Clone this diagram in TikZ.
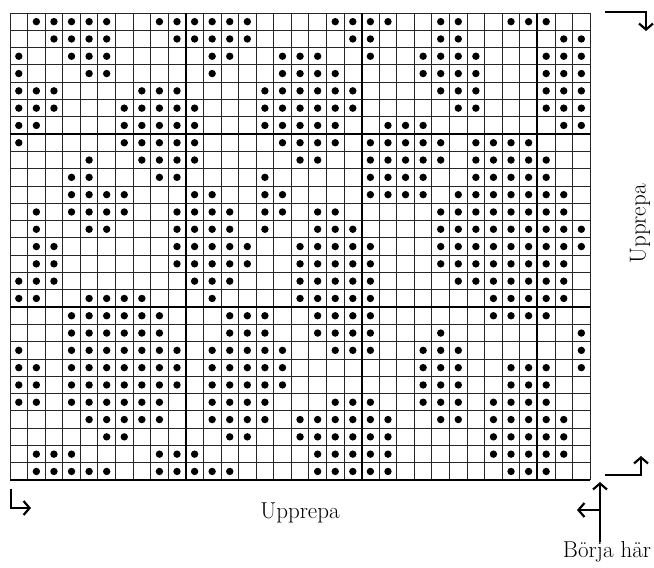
\documentclass[tikz,border=0pt]{standalone}
\usetikzlibrary{arrows.meta}

\tikzset{
  gridline/.style={line width=0.9pt,black!85},
  boldline/.style={line width=2pt,black},
  stitch/.style={fill=black},
  turnarrow/.style={line width=2.2pt,-{Straight Barb[length=6pt,width=14pt,line width=2.2pt]}},
}

\begin{document}
\begin{tikzpicture}[x=1pt,y=-1pt,font=\fontsize{23}{26}\selectfont]
  \useasboundingbox (0,0) rectangle (654,568);
  % chart, one unit = one stitch
  \begin{scope}[shift={(10,13)},x=17.58pt,y=-17.3pt]
    \foreach \i in {0,...,33} \draw[gridline] (\i,0) -- (\i,27);
    \foreach \j in {0,...,27} \draw[gridline] (0,\j) -- (33,\j);
    \foreach \i in {10,20,30} \draw[boldline] (\i,0) -- (\i,27);
    \foreach \j in {7,17} \draw[boldline] (0,\j) -- (33,\j);
    \draw[boldline] (0,27) -- (33,27);
    \foreach \r/\cols in {
      0/{1,2,3,4,5,8,9,10,11,12,13,18,19,20,21,24,25,28,29,30},
      1/{2,3,4,5,9,10,11,12,13,19,20,24,25,31,32},
      2/{0,3,4,5,11,12,15,16,17,20,23,24,25,26,30,31,32},
      3/{0,4,5,11,15,16,17,18,23,24,25,26,30,31,32},
      4/{0,1,2,7,8,9,14,15,16,17,18,19,24,25,26,30,31,32},
      5/{0,1,2,6,7,8,9,10,14,15,16,17,18,19,25,26,30,31,32},
      6/{0,1,6,7,8,9,10,14,15,16,17,18,21,22,23,31,32},
      7/{0,6,7,8,9,10,15,16,17,18,20,21,22,23,24,26,27,28,29},
      8/{4,7,8,9,10,16,17,20,21,22,23,24,26,27,28,29,30},
      9/{3,4,8,9,14,20,21,22,23,26,27,28,29,30},
      10/{3,4,5,6,10,11,14,15,20,21,22,23,25,26,27,28,29,30,31},
      11/{1,3,4,5,6,9,10,11,12,14,15,17,18,24,25,26,27,28,29,30,31},
      12/{1,4,5,9,10,11,12,14,17,18,19,24,25,26,27,28,29,30,31,32},
      13/{1,2,9,10,11,12,13,16,17,18,19,20,24,25,26,27,28,29,30,31,32},
      14/{1,2,9,10,11,12,13,16,17,18,19,20,24,25,26,27,28,29,30,31},
      15/{0,1,2,10,11,12,16,17,18,19,20,25,26,27,28,29,30,31},
      16/{0,1,4,5,6,7,11,16,17,18,19,20,27,28,29,30,31},
      17/{3,4,5,6,7,8,12,13,14,17,18,19,20,27,28,29,30},
      18/{3,4,5,6,7,8,12,13,14,17,18,19,20,24,32},
      19/{0,3,4,5,6,7,8,9,11,12,13,14,15,18,19,20,23,24,25,32},
      20/{0,1,3,4,5,6,7,8,9,11,12,13,14,15,23,24,25,28,29,30,32},
      21/{0,1,3,4,5,6,7,8,9,11,12,13,14,15,23,24,25,28,29,30},
      22/{0,1,3,4,5,6,7,8,11,12,13,14,18,19,20,23,24,25,27,28,29,30},
      23/{4,5,6,7,8,11,12,13,14,16,17,18,19,20,21,24,25,27,28,29,30,31},
      24/{5,6,12,13,16,17,18,19,20,21,27,28,29,30,31},
      25/{1,2,3,8,9,10,17,18,19,20,21,27,28,29,30,31},
      26/{1,2,3,4,5,8,9,10,11,12,17,18,19,20,21,28,29,30}}
      \foreach \c in \cols \fill[stitch] (\c+0.5,\r+0.5) circle (3.7pt);
  \end{scope}

  % repeat and start marks
  \coordinate (topL) at (605,12);
  \coordinate (topC) at (646,12);
  \coordinate (topE) at (646,31);
  \draw[turnarrow] (topL) -- (topC) -- (topE);

  \coordinate (botL) at (605,475);
  \coordinate (botC) at (641,475);
  \coordinate (botE) at (641,456);
  \draw[turnarrow] (botL) -- (botC) -- (botE);

  \coordinate (leftT) at (11,489);
  \coordinate (leftC) at (11,508);
  \coordinate (leftE) at (31,508);
  \draw[turnarrow] (leftT) -- (leftC) -- (leftE);

  \node (start) at (607,552) {Börja här};
  \coordinate (startB) at (600,542);
  \coordinate (startT) at (600,482);
  \draw[turnarrow] (startB) -- (startT);
  \coordinate (startM) at (600,510);
  \coordinate (startE) at (577,510);
  \draw[turnarrow] (startM) -- (startE);

  \node (rowrep) at (300,513) {Upprepa};
  \node[rotate=90] (colrep) at (640,224) {Upprepa};
\end{tikzpicture}
\end{document}
